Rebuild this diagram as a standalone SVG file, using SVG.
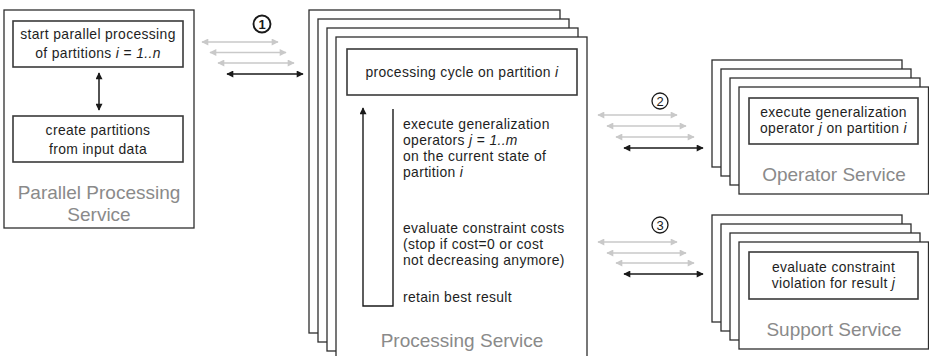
<svg xmlns="http://www.w3.org/2000/svg" width="929" height="356" viewBox="0 0 929 356">
  <defs>
    <marker id="headDark" viewBox="0 0 10 10" refX="9" refY="5" markerWidth="8" markerHeight="7" markerUnits="userSpaceOnUse" orient="auto-start-reverse">
      <path d="M0,0 L10,5 L0,10 z" fill="#1a1a1a"/>
    </marker>
    <marker id="headLight" viewBox="0 0 10 10" refX="9" refY="5" markerWidth="8" markerHeight="7" markerUnits="userSpaceOnUse" orient="auto-start-reverse">
      <path d="M0,0 L10,5 L0,10 z" fill="#c9c9c9"/>
    </marker>
    <style>
      .frame { fill: #ffffff; stroke: #2e2e2e; stroke-width: 1.3; }
      .task { fill: #ffffff; stroke: #3a3a3a; stroke-width: 1.6; }
      .txt { font-family: "Liberation Sans", Arial, sans-serif; font-size: 13.9px; letter-spacing: 0.35px; fill: #1e1e1e; }
      .mid { text-anchor: middle; }
      .title { font-family: "Liberation Sans", Arial, sans-serif; font-size: 19px; fill: #8a8a8a; text-anchor: middle; }
      .it { font-style: italic; }
      .dark { fill: none; stroke: #1a1a1a; stroke-width: 1.5; marker-start: url(#headDark); marker-end: url(#headDark); }
      .light { fill: none; stroke: #c9c9c9; stroke-width: 1.3; marker-start: url(#headLight); marker-end: url(#headLight); }
      .num { fill: #ffffff; stroke: #1a1a1a; }
      .numtxt { font-family: "Liberation Sans", Arial, sans-serif; font-size: 13px; fill: #1a1a1a; text-anchor: middle; }
    </style>
  </defs>
  <rect width="929" height="356" fill="#ffffff"/>

  <!-- Parallel Processing Service -->
  <g id="parallel-processing-service">
    <rect class="frame" x="4" y="10" width="190" height="218"/>
    <rect class="task" x="13" y="21" width="170" height="46"/>
    <text class="txt mid" x="98" y="39">start parallel processing</text>
    <text class="txt mid" x="98" y="58">of partitions <tspan class="it">i</tspan> = <tspan class="it">1..n</tspan></text>
    <rect class="task" x="13" y="116" width="170" height="46"/>
    <text class="txt mid" x="98" y="135">create partitions</text>
    <text class="txt mid" x="98" y="154">from input data</text>
    <line class="dark" x1="99" y1="73" x2="99" y2="110"/>
    <text class="title" x="99" y="198.5">Parallel Processing</text>
    <text class="title" x="99" y="220.5">Service</text>
  </g>

  <!-- Processing Service (stacked instances) -->
  <g id="processing-service">
    <rect class="frame" x="309" y="10" width="251" height="323"/>
    <rect class="frame" x="318" y="19" width="251" height="323"/>
    <rect class="frame" x="327" y="28" width="251" height="323"/>
    <rect class="frame" x="336" y="37" width="251" height="330"/>
    <rect class="task" x="347" y="49" width="230" height="46"/>
    <text class="txt mid" x="462" y="77">processing cycle on partition <tspan class="it">i</tspan></text>
    <path d="M393,109 V306 H363 V108" fill="none" stroke="#1a1a1a" stroke-width="1.4" marker-end="url(#headDark)"/>
    <text class="txt" x="403" y="129">execute generalization</text>
    <text class="txt" x="403" y="145">operators <tspan class="it">j</tspan> = <tspan class="it">1..m</tspan></text>
    <text class="txt" x="403" y="161">on the current state of</text>
    <text class="txt" x="403" y="177">partition <tspan class="it">i</tspan></text>
    <text class="txt" x="403" y="233">evaluate constraint costs</text>
    <text class="txt" x="403" y="249">(stop if cost=0 or cost</text>
    <text class="txt" x="403" y="265">not decreasing anymore)</text>
    <text class="txt" x="403" y="302">retain best result</text>
    <text class="title" x="462" y="347">Processing Service</text>
  </g>

  <!-- Operator Service (stacked instances) -->
  <g id="operator-service">
    <rect class="frame" x="712" y="60" width="190" height="107"/>
    <rect class="frame" x="721" y="69" width="190" height="107"/>
    <rect class="frame" x="730" y="78" width="190" height="107"/>
    <rect class="frame" x="739" y="87" width="189.5" height="107"/>
    <rect class="task" x="749" y="98" width="169" height="46"/>
    <text class="txt mid" x="833.5" y="117">execute generalization</text>
    <text class="txt mid" x="833.5" y="133">operator <tspan class="it">j</tspan> on partition <tspan class="it">i</tspan></text>
    <text class="title" x="834" y="181">Operator Service</text>
  </g>

  <!-- Support Service (stacked instances) -->
  <g id="support-service">
    <rect class="frame" x="712" y="215" width="190" height="107"/>
    <rect class="frame" x="721" y="224" width="190" height="107"/>
    <rect class="frame" x="730" y="233" width="190" height="107"/>
    <rect class="frame" x="739" y="242" width="189.5" height="107"/>
    <rect class="task" x="749" y="252" width="169" height="47"/>
    <text class="txt mid" x="833.5" y="272">evaluate constraint</text>
    <text class="txt mid" x="833.5" y="288">violation for result <tspan class="it">j</tspan></text>
    <text class="title" x="834" y="336">Support Service</text>
  </g>

  <!-- Message exchanges between services -->
  <g id="connectors">
    <g id="exchange-1">
      <circle class="num" cx="262" cy="24" r="8.5" stroke-width="1.9"/>
      <text class="numtxt" x="262" y="29" font-weight="bold">1</text>
      <line class="light" x1="202" y1="42" x2="278" y2="42"/>
      <line class="light" x1="210" y1="52.5" x2="286" y2="52.5"/>
      <line class="light" x1="218" y1="63" x2="294" y2="63"/>
      <line class="dark" x1="227" y1="74" x2="303" y2="74"/>
    </g>
    <g id="exchange-2">
      <circle class="num" cx="660" cy="101" r="8" stroke-width="1.3"/>
      <text class="numtxt" x="660" y="106">2</text>
      <line class="light" x1="598" y1="115" x2="677" y2="115"/>
      <line class="light" x1="607" y1="126" x2="686" y2="126"/>
      <line class="light" x1="616" y1="137" x2="694" y2="137"/>
      <line class="dark" x1="624" y1="148" x2="703" y2="148"/>
    </g>
    <g id="exchange-3">
      <circle class="num" cx="660" cy="225" r="8" stroke-width="1.3"/>
      <text class="numtxt" x="660" y="230">3</text>
      <line class="light" x1="598" y1="242" x2="677" y2="242"/>
      <line class="light" x1="607" y1="253" x2="686" y2="253"/>
      <line class="light" x1="616" y1="263" x2="694" y2="263"/>
      <line class="dark" x1="624" y1="274" x2="703" y2="274"/>
    </g>
  </g>
</svg>
